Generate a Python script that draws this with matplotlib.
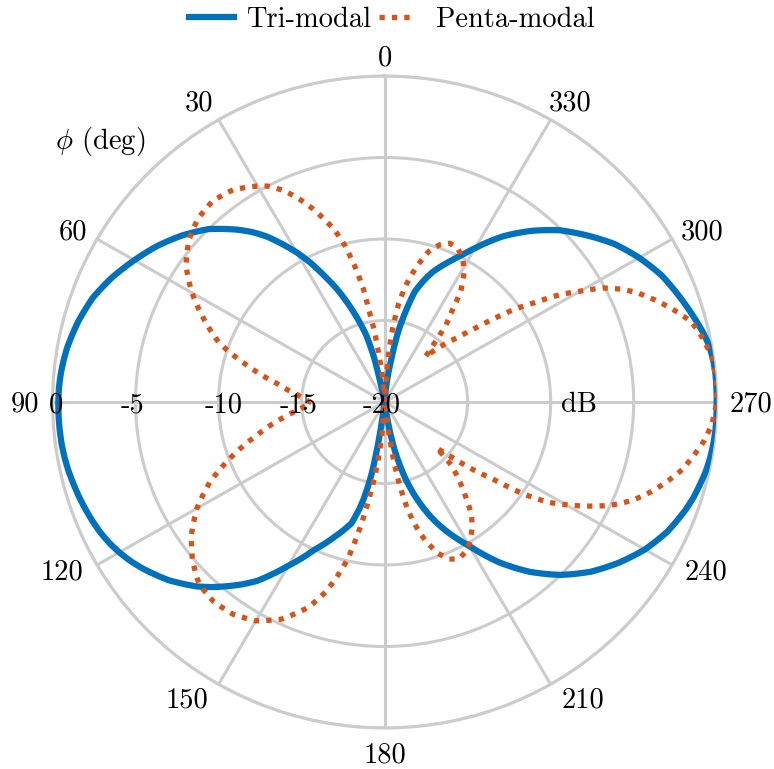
import numpy as np
import matplotlib
matplotlib.use("Agg")
import matplotlib.pyplot as plt
from matplotlib.lines import Line2D

plt.rcParams["font.family"] = "serif"
plt.rcParams["font.serif"] = ["cmr10"]
plt.rcParams["mathtext.fontset"] = "cm"
plt.rcParams["axes.unicode_minus"] = False
plt.rcParams["axes.formatter.use_mathtext"] = True
plt.rcParams["path.simplify"] = False

# Radiation patterns in dB versus azimuth phi (deg)
tri_phi = [0, 5, 11, 12, 13, 15, 17.5, 20, 22.5, 25, 27.5, 30, 32.5, 35, 37.5,
           40, 42.5, 45, 47.5, 50, 52.5, 55, 57.5, 60, 62.5, 65, 67.5, 70, 72.5,
           75, 77.5, 80, 82.5, 85, 87.5, 90, 92.5, 95, 97.5, 100, 102.5, 105,
           107.5, 110, 112.5, 115, 117.5, 120, 122.5, 125, 127.5, 130, 132.5,
           135, 137.5, 140, 142.5, 145, 147.5, 150, 152.5, 155, 157.5, 160,
           162.5, 165, 167, 168, 169, 170, 171, 172, 173, 180,
           187, 188.8, 190, 191.6, 193, 195, 197.5, 200, 202.5, 205, 207.5, 210,
           212.5, 215, 217.5, 220, 222.5, 225, 227.5, 230, 232.5, 235, 237.5,
           240, 242.5, 245, 247.5, 250, 252.5, 255, 257.5, 260, 262.5, 265, 270,
           275, 277.5, 280, 282.5, 285, 287.5, 290, 292.5, 295, 297.5, 300,
           302.5, 305, 307.5, 310, 312.5, 315, 317.5, 320, 322.5, 325, 327.5,
           330, 332.5, 335, 337.5, 340, 342.5, 345, 347, 349.4, 351.3, 354, 356,
           360]
tri_db = [-20, -20, -20, -18.8, -17.3, -15.8, -14.7, -13.6, -12.5, -11.5, -10.4,
          -9.4, -8.5, -7.6, -6.85, -6.2, -5.6, -5.0, -4.55, -4.1, -3.7, -3.3,
          -2.95, -2.6, -2.25, -1.9, -1.6, -1.3, -1.1, -0.9, -0.75, -0.6, -0.5,
          -0.42, -0.37, -0.35, -0.35, -0.36, -0.38, -0.43, -0.5, -0.6, -0.7,
          -0.82, -0.95, -1.1, -1.3, -1.55, -1.85, -2.2, -2.6, -3.0, -3.5, -4.0,
          -4.6, -5.25, -5.9, -6.6, -7.5, -8.4, -9.2, -10.0, -10.6, -11.2,
          -11.75, -12.3, -13.3, -13.9, -14.7, -15.6, -17.0, -18.5, -20, -20,
          -20, -19.3, -18.2, -17.0, -16.2, -15.1, -14.0, -13.0, -12.1, -11.3,
          -10.55, -9.8, -8.9, -8.0, -7.2, -6.4, -5.7, -5.0, -4.4, -3.8, -3.3,
          -2.8, -2.35, -1.9, -1.55, -1.2, -0.95, -0.7, -0.5, -0.35, -0.2, -0.1,
          -0.04, 0, 0, 0, -0.05, -0.15, -0.35, -0.6, -0.85, -1.1, -1.35, -1.6,
          -1.95, -2.3, -2.7, -3.1, -3.6, -4.1, -4.6, -5.1, -5.7, -6.3, -6.95,
          -7.6, -8.35, -9.1, -9.8, -10.4, -10.95, -11.5, -12.2, -13.0, -14.2,
          -15.7, -17.4, -19.0, -20, -20]

penta_phi = [0, 3, 4.5, 6.5, 8, 9.5, 10.5, 12, 14, 16, 18, 20, 22.5, 25, 28, 30,
             35, 40, 45, 50, 55, 60, 65, 70, 75, 80, 85, 90.5, 95, 100, 105, 110,
             115, 120, 125, 130, 135, 140, 145, 150, 155, 160, 163, 165, 167, 169,
             171, 173, 175, 177, 183, 186, 187.5, 188.5, 190, 192, 194, 196, 199,
             202, 205, 208, 211, 214, 217, 220, 223, 226, 228, 230, 232, 234, 236,
             238, 240, 242, 245, 248, 251, 254, 257, 260, 263, 266, 270, 274, 278,
             282, 285, 288, 291, 294, 296, 298, 300, 302, 304, 306, 308, 310, 312,
             315, 318.5, 320, 322, 324, 326, 329, 332, 335, 338, 341, 344, 347,
             350, 352, 354, 355.5, 356.5, 358, 360]
penta_db = [-20, -20, -18.6, -17.4, -15.7, -14.3, -12.9, -11.6, -10.1, -9.0, -8.2,
            -7.4, -6.5, -5.7, -5.0, -4.7, -4.1, -3.9, -4.1, -4.6, -5.4, -6.6, -8.0,
            -9.4, -11.5, -13.4, -14.7, -15.6, -14.9, -13.5, -12.0, -10.2, -8.4,
            -6.95, -5.8, -4.9, -4.2, -4.0, -4.1, -4.5, -5.3, -6.6, -7.8, -8.9,
            -10.1, -12.0, -14.0, -15.8, -17.6, -20, -20, -20, -18.5, -16.6, -14.9,
            -13.2, -12.1, -11.2, -10.2, -9.6, -9.4, -9.6, -10.0, -10.6, -11.3,
            -12.4, -13.4, -14.4, -15.8, -14.8, -13.3, -12.0, -9.9, -8.4, -7.4,
            -6.4, -5.0, -3.9, -3.05, -2.3, -1.6, -1.1, -0.6, -0.25, 0, 0, -0.1,
            -0.5, -0.9, -1.7, -2.55, -3.45, -4.2, -5.1, -6.4, -7.6, -9.1, -10.3,
            -11.8, -13.1, -14.1, -15.1, -16.3, -15.5, -14.0, -13.1, -11.8, -10.7,
            -10.0, -9.6, -9.5, -9.8, -10.4, -11.5, -12.8, -13.9, -15.6, -17.2,
            -19.0, -20, -20]

theta_ticks = [0, 30, 60, 90, 120, 150, 180, 210, 240, 270, 300, 330]
theta_labels = ["0", "30", "60", "90", "120", "150", "180", "210", "240", "270",
                "300", "330"]
r_ticks = [-20, -15, -10, -5, 0]
r_labels = ["-20", "-15", "-10", "-5", "0"]

blue = "#0072BD"
orange = "#D95319"
grid_c = "#CCCCCC"
fs = 20.5
penta_dash = (0, (1.0, 1.35))

fig = plt.figure(figsize=(7.74, 7.69), dpi=100)
ax = fig.add_axes([52.5 / 774, 41 / 769, 664.2 / 774, 652 / 769],
                  projection="polar")
ax.set_aspect("auto")
ax.set_theta_zero_location("N")
ax.set_theta_direction(1)
ax.set_ylim(-20, 0)

ax.set_xticks(np.radians(theta_ticks))
ax.set_xticklabels([])
ax.set_yticks(r_ticks)
ax.set_yticklabels([])
ax.tick_params(axis="both", length=0)
ax.grid(True, color=grid_c, lw=2.2)
ax.spines["polar"].set_color(grid_c)
ax.spines["polar"].set_linewidth(2.2)

# Angle labels: pixel offsets (right, down) of each label centre from the rim
theta_label_offsets = [(0, -20.2), (-19.2, -18.9), (-23.7, -8.5), (-27.5, 0),
                       (-35.5, 5), (-31.5, 14), (0, 25.3), (32, 14), (33.8, 5),
                       (34, 0), (30.2, -9), (19, -18.9)]
for a, lab, (dx, dy) in zip(theta_ticks, theta_labels, theta_label_offsets):
    ax.annotate(lab, xy=(np.radians(a), 0), xycoords="data",
                xytext=(dx, -(dy + 2.2)), textcoords="offset pixels",
                ha="center", va="center", fontsize=fs, annotation_clip=False)

tri_line, = ax.plot(np.radians(tri_phi), tri_db, color=blue, lw=4.5,
                    solid_joinstyle="round", zorder=3)
penta_line, = ax.plot(np.radians(penta_phi), penta_db, color=orange, lw=3.8,
                      linestyle=penta_dash, zorder=4)
# draw segments as polar arcs rather than chords
for ln in (tri_line, penta_line):
    ln.get_path()._interpolation_steps = 12

# Radial (dB) labels along the 90 deg spoke
r_label_dx = [-2.5, -3.3, 5.5, -3.3, 4.0]
for r, lab, dx in zip(r_ticks, r_labels, r_label_dx):
    ax.annotate(lab, xy=(np.radians(90), r), xycoords="data",
                xytext=(dx, -3.4), textcoords="offset pixels",
                ha="center", va="center", fontsize=fs, zorder=6)
ax.annotate("dB", xy=(np.radians(270), -8.3), xycoords="data",
            xytext=(0, -3.3), textcoords="offset pixels",
            ha="center", va="center", fontsize=fs, zorder=6)

fig.text(100 / 774, 1 - 142 / 769, r"$\phi$ (deg)", ha="center", va="center",
         fontsize=fs)

# Legend keys: solid line and three dots
tri_key = Line2D([], [], color=blue, lw=4.5)
penta_key = Line2D([], [], color=orange, lw=3.8,
                   linestyle=(0, (1.0, 1.35, 1.0, 1.35, 1.0, 8.0)))
fig.legend([tri_key, penta_key], ["Tri-modal", "Penta-modal"], loc="center",
           bbox_to_anchor=(392 / 774, 1 - 20 / 769), ncol=2,
           frameon=False, fontsize=fs, handlelength=1.58, handletextpad=0.41,
           columnspacing=0.3, borderpad=0, borderaxespad=0)

fig.savefig("out.png", dpi=100)
